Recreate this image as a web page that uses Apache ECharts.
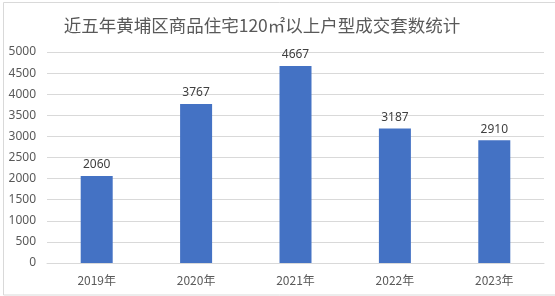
<!DOCTYPE html>
<html><head><meta charset="utf-8">
<script src="https://cdn.jsdelivr.net/npm/echarts@6/dist/echarts.min.js"></script>
<style>html,body{margin:0;padding:0;background:#fff}#c{width:555px;height:296px}</style>
</head><body><div id="c"></div>
<script>
const titleText = '近五年黄埔区商品住宅120㎡以上户型成交套数统计';
const categories = ['2019年','2020年','2021年','2022年','2023年'];
const values = [2060, 3767, 4667, 3187, 2910];
const chart = echarts.init(document.getElementById('c'));
chart.setOption({
  animation: false,
  backgroundColor: '#fff',
  graphic: [
    {type: 'rect', shape: {x: 3.5, y: 2.5, width: 560, height: 292.5}, style: {fill: 'none', stroke: '#d9d9d9', lineWidth: 1}},
    {type: 'text', x: 262, y: 25, style: {text: titleText, align: 'center', verticalAlign: 'middle',
      font: 'normal 17.5px "Noto Sans CJK SC"', fill: '#595959'}}
  ],
  grid: {left: 47, right: 11, top: 52, bottom: 33},
  xAxis: {type: 'category', data: categories,
    axisLine: {lineStyle: {color: '#d9d9d9'}}, axisTick: {show: false},
    axisLabel: {color: '#595959', fontSize: 12, margin: 11, fontFamily: 'Noto Sans CJK SC'}},
  yAxis: {type: 'value', min: 0, max: 5000, interval: 500,
    axisLine: {show: false}, axisTick: {show: false},
    splitLine: {lineStyle: {color: '#d9d9d9'}},
    axisLabel: {color: '#595959', fontSize: 12, margin: 11, fontFamily: 'Noto Sans', formatter: v => String(v)}},
  series: [{type: 'bar', data: values, barWidth: 32, itemStyle: {color: '#4472C4'},
    label: {show: true, position: 'top', color: '#404040', fontSize: 12, fontFamily: 'Noto Sans', distance: 5}}]
});
</script></body></html>
